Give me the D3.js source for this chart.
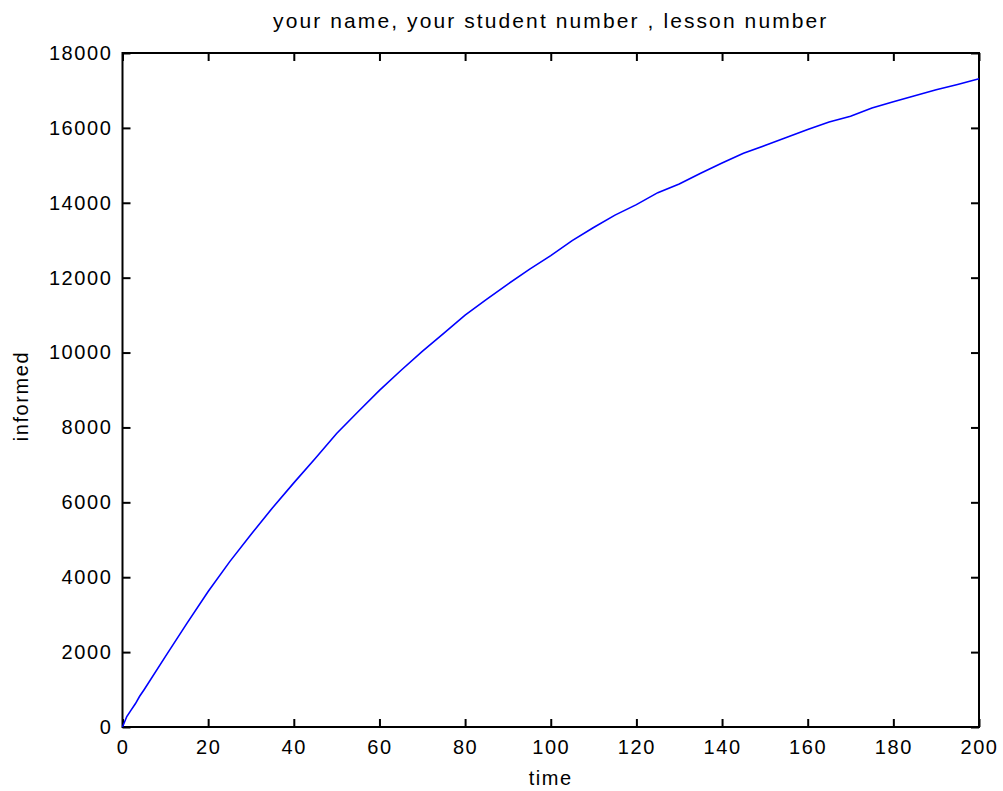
<!DOCTYPE html>
<html>
<head>
<meta charset="utf-8">
<script src="https://cdn.jsdelivr.net/npm/d3@7"></script>
<style>
  body { margin: 0; background: #fff; }
  text { font-family: "Liberation Sans", Arial, sans-serif; fill: #000; }
</style>
</head>
<body>
<svg id="chart" width="1003" height="791"></svg>
<script>
// time steps and informed count
const time = [0, 1, 2, 3, 4, 5, 10, 15, 20, 25, 30, 35, 40, 45, 50, 55, 60, 65, 70, 75, 80,
  85, 90, 95, 100, 105, 110, 115, 120, 125, 130, 135, 140, 145, 150, 155, 160, 165, 170,
  175, 180, 185, 190, 195, 200];
const informed = [0, 280, 450, 620, 820, 990, 1880, 2760, 3620, 4410, 5140, 5850, 6520, 7170,
  7840, 8420, 8990, 9520, 10030, 10510, 11000, 11420, 11830, 12220, 12590, 12990, 13340,
  13670, 13950, 14270, 14500, 14790, 15060, 15320, 15530, 15740, 15960, 16160, 16310,
  16530, 16700, 16860, 17020, 17160, 17310];
const xTicks = [0, 20, 40, 60, 80, 100, 120, 140, 160, 180, 200];
const yTicks = [0, 2000, 4000, 6000, 8000, 10000, 12000, 14000, 16000, 18000];

const pl = 122.5, pr = 979, pt = 53, pb = 727;
const svg = d3.select('#chart');

const x = d3.scaleLinear().domain([0, 200]).range([pl, pr]);
const y = d3.scaleLinear().domain([0, 18000]).range([pb, pt]);

// box
svg.append('rect')
  .attr('x', pl).attr('y', pt)
  .attr('width', pr - pl).attr('height', pb - pt)
  .attr('fill', 'none').attr('stroke', '#000').attr('stroke-width', 2);

// inward ticks on all four sides
function axisStyle(g){
  g.select('.domain').remove();
  g.selectAll('line').attr('stroke', '#000').attr('stroke-width', 2);
  g.selectAll('text').attr('font-size', 20).attr('letter-spacing', 1.6);
}

svg.append('g').attr('transform', `translate(0,${pb})`)
  .call(d3.axisBottom(x).tickValues(xTicks).tickSizeInner(-8).tickPadding(11).tickFormat(d3.format('d')))
  .call(axisStyle)
  .selectAll('text').attr('dy', '0.8em');

svg.append('g').attr('transform', `translate(0,${pt})`)
  .call(d3.axisTop(x).tickValues(xTicks).tickSizeInner(-8).tickFormat(''))
  .call(axisStyle);

svg.append('g').attr('transform', `translate(${pl},0)`)
  .call(d3.axisLeft(y).tickValues(yTicks).tickSizeInner(-8).tickPadding(10).tickFormat(d3.format('d')))
  .call(axisStyle);

svg.append('g').attr('transform', `translate(${pr},0)`)
  .call(d3.axisRight(y).tickValues(yTicks).tickSizeInner(-8).tickFormat(''))
  .call(axisStyle);

// curve
const line = d3.line().x((d, i) => x(time[i])).y(d => y(d));
svg.append('path')
  .datum(informed)
  .attr('d', line)
  .attr('fill', 'none')
  .attr('stroke', '#0000ff')
  .attr('stroke-width', 1.6);

// labels
svg.append('text')
  .attr('x', (pl + pr) / 2).attr('y', 28)
  .attr('text-anchor', 'middle')
  .attr('font-size', 21).attr('letter-spacing', 2.1)
  .text('your name, your student number , lesson number');

svg.append('text')
  .attr('x', (pl + pr) / 2).attr('y', 785)
  .attr('text-anchor', 'middle')
  .attr('font-size', 20).attr('letter-spacing', 1.6)
  .text('time');

svg.append('text')
  .attr('transform', `translate(28,396) rotate(-90)`)
  .attr('text-anchor', 'middle')
  .attr('font-size', 20).attr('letter-spacing', 1.6)
  .text('informed');
</script>
</body>
</html>
